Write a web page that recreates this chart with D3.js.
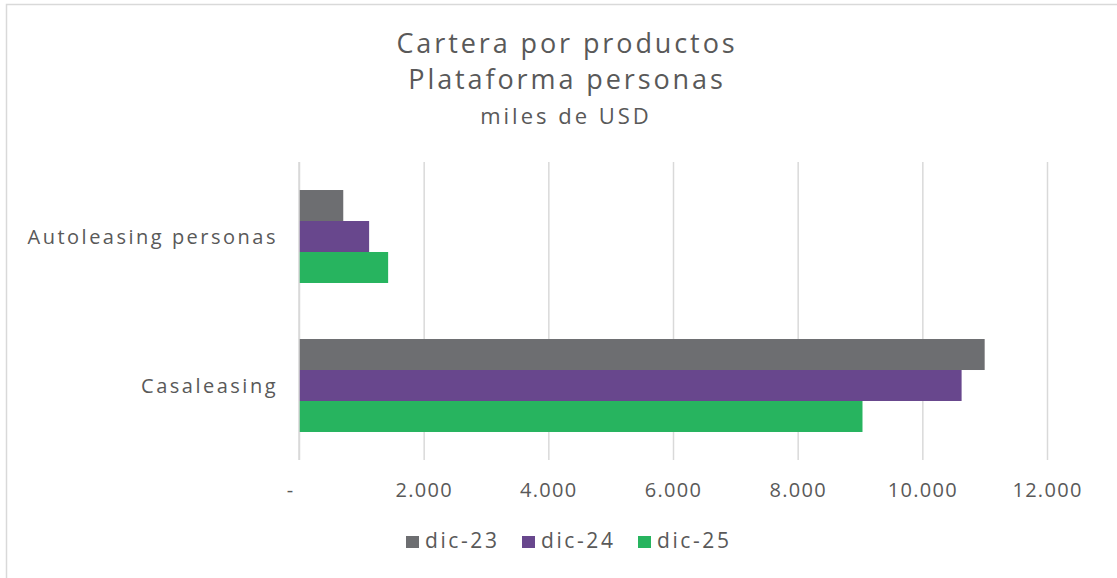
<!DOCTYPE html>
<html><head><meta charset="utf-8">
<script src="https://cdn.jsdelivr.net/npm/d3@7"></script>
<style>body{margin:0;background:#fff}svg{display:block;font-family:"Open Sans",sans-serif}</style>
</head><body><svg id="c" width="1117" height="578"></svg>
<script>
const categories = ["Autoleasing personas", "Casaleasing"];
const seriesNames = ["dic-23", "dic-24", "dic-25"];
const dic23 = [710, 11000];
const dic24 = [1125, 10630];
const dic25 = [1430, 9040];
const tickValues = [0, 2000, 4000, 6000, 8000, 10000, 12000];
const colors = ["#6d6e71", "#68478d", "#27b45f"];
const values = [dic23, dic24, dic25];

const svg = d3.select("#c");
const txt = "#595959";
svg.append("rect").attr("x",6.5).attr("y",4.5).attr("width",1130).attr("height",600)
  .attr("fill","#fff").attr("stroke","#d9d9d9").attr("stroke-width",1.5);

const m = {l:299, r:1047, t:162, b:460};
const x = d3.scaleLinear().domain([0,12000]).range([m.l, m.r]);
const y = d3.scaleBand().domain(categories).range([m.t, m.b]).paddingInner(0.376).paddingOuter(0.188);
const ys = d3.scaleBand().domain(seriesNames).range([0, y.bandwidth()]);

const fmt = v => v === 0 ? "-" : d3.format(",")(v).replace(/,/g, ".");
const ax = svg.append("g").attr("transform",`translate(0,${m.b})`)
  .call(d3.axisBottom(x).tickValues(tickValues).tickSize(m.b-m.t).tickFormat(fmt));
ax.select(".domain").remove();
ax.selectAll(".tick line").attr("y1",0).attr("y2",-(m.b-m.t)).attr("stroke","#d9d9d9").attr("stroke-width",1.5);
ax.selectAll(".tick text").attr("y",30).attr("dy","0.35em").attr("fill",txt)
  .attr("font-size",20).attr("letter-spacing",1.3).attr("font-family","Open Sans, sans-serif");
ax.selectAll(".tick").filter(d=>d===0).select("text").attr("dx",-9);

seriesNames.forEach((s,i)=>{
  svg.append("g").selectAll("rect").data(categories).join("rect")
    .attr("x", x(0)).attr("y", c => y(c)+ys(s))
    .attr("width", (c,j) => x(values[i][j]) - x(0)).attr("height", ys.bandwidth())
    .attr("fill", colors[i]);
});
svg.append("line").attr("x1",x(0)).attr("x2",x(0)).attr("y1",m.t).attr("y2",m.b)
  .attr("stroke","#d9d9d9").attr("stroke-width",1.5);

svg.append("g").selectAll("text").data(categories).join("text")
  .attr("x", 278).attr("y", c => y(c)+y.bandwidth()/2).attr("dy","0.35em")
  .attr("text-anchor","end").attr("fill",txt).attr("font-size",20).attr("letter-spacing",2.5).text(c=>c);

const title = svg.append("text").attr("text-anchor","middle").attr("fill",txt);
title.append("tspan").attr("x",567).attr("y",53).attr("font-size",27).attr("letter-spacing",2.9).text("Cartera por productos");
title.append("tspan").attr("x",567).attr("y",89).attr("font-size",27).attr("letter-spacing",2.9).text("Plataforma personas");
title.append("tspan").attr("x",566).attr("y",124).attr("font-size",22).attr("letter-spacing",3).text("miles de USD");

const lg = svg.append("g");
const lx = [406, 522, 638];
seriesNames.forEach((s,i)=>{
  lg.append("rect").attr("x",lx[i]).attr("y",536).attr("width",13).attr("height",12).attr("fill",colors[i]);
  lg.append("text").attr("x",lx[i]+19).attr("y",541).attr("dy","0.35em").attr("fill",txt)
    .attr("font-size",21).attr("letter-spacing",2.6).text(s);
});
</script></body></html>
